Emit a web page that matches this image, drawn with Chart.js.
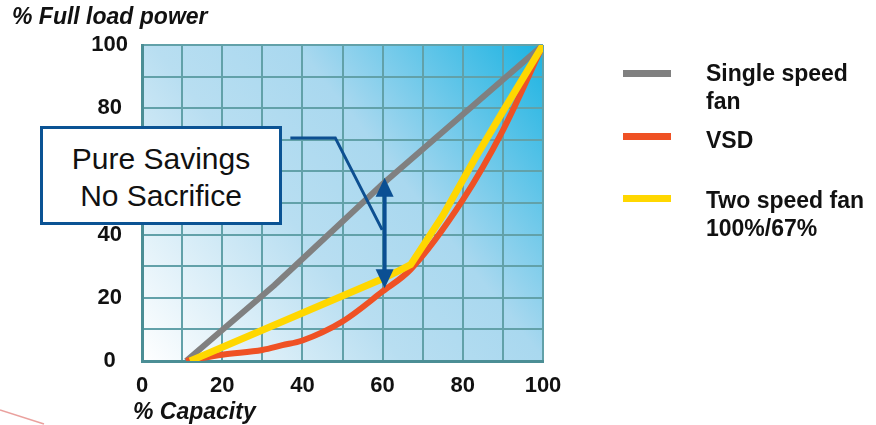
<!DOCTYPE html>
<html>
<head>
<meta charset="utf-8">
<script src="https://cdn.jsdelivr.net/npm/chart.js@4/dist/chart.umd.min.js"></script>
<style>
  html, body { margin: 0; padding: 0; background: #ffffff; }
  #wrap { position: relative; width: 876px; height: 425px; overflow: hidden;
          font-family: "Liberation Sans", Arial, sans-serif; color: #111; }
  #chart { position: absolute; left: 0; top: 0; }
  .axis-title { position: absolute; font-weight: bold; font-style: italic;
                font-size: 23px; line-height: 23px; white-space: nowrap; }
  .callout { position: absolute; left: 40px; top: 126px; width: 236px; height: 90px;
             border: 3.5px solid #0b5394; background: #ffffff;
             display: flex; flex-direction: column; justify-content: center; align-items: center;
             font-size: 30px; line-height: 37px; padding-top: 3px; box-sizing: content-box; }
  .legend-swatch { position: absolute; left: 623px; width: 48px; height: 7px; }
  .legend-text { position: absolute; left: 706px; font-weight: bold; font-size: 23px;
                 line-height: 28px; white-space: nowrap; }
  svg.mark { position: absolute; left: 0; top: 0; }
</style>
</head>
<body>
<div id="wrap">
  <canvas id="chart" width="876" height="425"></canvas>
  <div class="axis-title" style="left:12px; top:5px;">% Full load power</div>
  <div class="axis-title" style="left:133px; top:400px;">% Capacity</div>

  <div class="callout"><div>Pure Savings</div><div>No Sacrifice</div></div>

  <div class="legend-swatch" style="top:70px; background:#808080;"></div>
  <div class="legend-text" style="top:59px;">Single speed<br>fan</div>
  <div class="legend-swatch" style="top:133px; background:#ef5124;"></div>
  <div class="legend-text" style="top:126px;">VSD</div>
  <div class="legend-swatch" style="top:195px; background:#ffd700;"></div>
  <div class="legend-text" style="top:186px;">Two speed fan<br>100%/67%</div>

  <svg class="mark" width="876" height="425">
    <path d="M0,410 Q22,417 44,424" fill="none" stroke="#d9534f" stroke-opacity="0.55" stroke-width="1.5"/>
  </svg>
</div>

<script>
// Power draw (% of full load) against airflow (% capacity) for three fan control schemes
const singleSpeedX = [11, 33, 60, 100];
const singleSpeedY = [0, 24, 56, 100];

const vsdX = [11, 20, 30, 35, 40, 50, 60, 67, 80, 90, 100];
const vsdY = [0, 2, 3.5, 5, 6.5, 12.5, 22, 29, 51, 73, 100];

const twoSpeedX = [12, 60, 64, 67, 75, 83, 90, 100];
const twoSpeedY = [0, 26, 28.5, 30.5, 46, 64, 79, 100];

const axisTicks = [0, 20, 40, 60, 80, 100];

// Callout leader (capacity, power) and the savings arrow at 60% capacity
const leaderX = [37, 48.2, 59.9];
const leaderY = [70.6, 70.6, 41.5];
const savingsArrowX = 60.5;
const savingsArrowLow = 23;
const savingsArrowHigh = 58;

const toPoints = (xs, ys) => xs.map((x, i) => ({ x, y: ys[i] }));

const plotBackground = {
  id: 'plotBackground',
  beforeDraw(chart) {
    const { ctx, chartArea: a } = chart;
    const g = ctx.createLinearGradient(a.left, a.bottom, a.right, a.top);
    g.addColorStop(0, '#ffffff');
    g.addColorStop(0.4, '#b8def1');
    g.addColorStop(0.62, '#a9d8ef');
    g.addColorStop(1, '#1bb3e2');
    ctx.save();
    ctx.fillStyle = g;
    ctx.fillRect(a.left, a.top, a.right - a.left, a.bottom - a.top);
    ctx.restore();
  }
};

const savingsMarks = {
  id: 'savingsMarks',
  afterDatasetsDraw(chart) {
    const { ctx, scales: { x, y } } = chart;
    ctx.save();
    // leader from the callout box
    ctx.strokeStyle = '#0d4f91';
    ctx.lineWidth = 3;
    ctx.beginPath();
    leaderX.forEach((v, i) => {
      const px = x.getPixelForValue(v), py = y.getPixelForValue(leaderY[i]);
      if (i === 0) ctx.moveTo(px, py); else ctx.lineTo(px, py);
    });
    ctx.stroke();

    // double-headed arrow
    const ax = x.getPixelForValue(savingsArrowX);
    const top = y.getPixelForValue(savingsArrowHigh);
    const bot = y.getPixelForValue(savingsArrowLow);
    const headLen = 19, headHalf = 9;
    ctx.fillStyle = '#0b4f93';
    ctx.strokeStyle = '#0b4f93';
    ctx.lineWidth = 4;
    ctx.beginPath();
    ctx.moveTo(ax, top + headLen - 1);
    ctx.lineTo(ax, bot - headLen + 1);
    ctx.stroke();
    ctx.beginPath();
    ctx.moveTo(ax, top);
    ctx.lineTo(ax - headHalf, top + headLen);
    ctx.lineTo(ax + headHalf, top + headLen);
    ctx.closePath();
    ctx.fill();
    ctx.beginPath();
    ctx.moveTo(ax, bot);
    ctx.lineTo(ax - headHalf, bot - headLen);
    ctx.lineTo(ax + headHalf, bot - headLen);
    ctx.closePath();
    ctx.fill();
    ctx.restore();
  }
};

const tickFont = { family: '"Liberation Sans", Arial, sans-serif', size: 22, weight: 'bold' };
const tickLabel = v => (axisTicks.includes(v) ? String(v) : '');

new Chart(document.getElementById('chart'), {
  type: 'line',
  data: {
    datasets: [
      {
        label: 'Single speed fan',
        data: toPoints(singleSpeedX, singleSpeedY),
        borderColor: '#808080',
        borderWidth: 6,
        tension: 0,
        order: 3
      },
      {
        label: 'VSD',
        data: toPoints(vsdX, vsdY),
        borderColor: '#ef5124',
        borderWidth: 6,
        cubicInterpolationMode: 'monotone',
        order: 2
      },
      {
        label: 'Two speed fan 100%/67%',
        data: toPoints(twoSpeedX, twoSpeedY),
        borderColor: '#ffd700',
        borderWidth: 7,
        tension: 0,
        order: 1
      }
    ]
  },
  options: {
    responsive: false,
    animation: false,
    devicePixelRatio: 1,
    layout: { padding: { top: 45, right: 333, bottom: 0, left: 0 } },
    elements: { point: { radius: 0, hoverRadius: 0 }, line: { borderCapStyle: 'butt', borderJoinStyle: 'miter' } },
    plugins: { legend: { display: false }, tooltip: { enabled: false }, title: { display: false } },
    scales: {
      x: {
        type: 'linear', min: 0, max: 100,
        ticks: { stepSize: 10, callback: tickLabel, font: tickFont, color: '#111', padding: 12, maxRotation: 0, autoSkip: false },
        grid: { color: '#62a1a9', lineWidth: 2, drawTicks: false },
        border: { color: '#4b8e95', width: 3 },
        afterFit(scale) { scale.height = 64; }
      },
      y: {
        type: 'linear', min: 0, max: 100,
        ticks: { stepSize: 10, callback: tickLabel, font: tickFont, color: '#111', padding: 14, crossAlign: 'center', autoSkip: false },
        grid: { color: '#62a1a9', lineWidth: 2, drawTicks: false },
        border: { color: '#4b8e95', width: 3 },
        afterFit(scale) { scale.width = 142; }
      }
    }
  },
  plugins: [plotBackground, savingsMarks]
});
</script>
</body>
</html>
